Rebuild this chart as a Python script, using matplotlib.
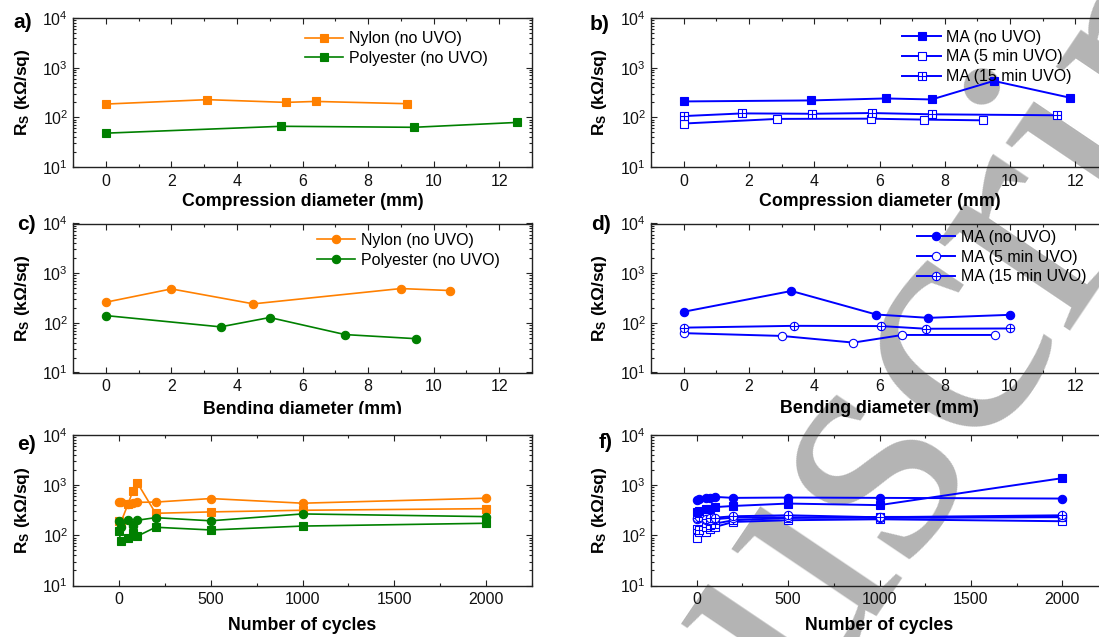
import numpy as np
import matplotlib
matplotlib.use('Agg')
import matplotlib.pyplot as plt
from matplotlib.path import Path
from matplotlib.patches import Rectangle
from matplotlib.ticker import LogLocator, MultipleLocator, NullFormatter

plt.rcParams['font.family'] = ['Liberation Sans', 'DejaVu Sans']
plt.rcParams['mathtext.default'] = 'regular'

# ---------------- data ----------------
# (a) compression, no UVO
a_nylon_x = [0, 3.1, 5.5, 6.4, 9.2]
a_nylon_y = [185, 227, 200, 209, 188]
a_poly_x = [0, 5.35, 9.4, 12.55]
a_poly_y = [48, 66, 63, 79]

# (b) compression, MA
b_no_x = [0, 3.9, 6.2, 7.6, 9.5, 11.85]
b_no_y = [209, 219, 240, 229, 541, 247]
b_5_x = [0, 2.87, 5.73, 7.37, 9.18]
b_5_y = [75, 93, 94, 90, 87]
b_15_x = [0, 1.8, 3.92, 5.76, 7.62, 11.44]
b_15_y = [106, 120, 118, 122, 115, 110]

# (c) bending, no UVO
c_nylon_x = [0, 2.0, 4.5, 9.0, 10.5]
c_nylon_y = [260, 482, 241, 490, 447]
c_poly_x = [0, 3.5, 5.0, 7.3, 9.45]
c_poly_y = [140, 83, 128, 58, 48]

# (d) bending, MA
d_no_x = [0, 3.3, 5.9, 7.5, 10]
d_no_y = [167, 438, 147, 126, 145]
d_5_x = [0, 3.0, 5.2, 6.7, 9.55]
d_5_y = [62, 54.5, 40, 57, 57]
d_15_x = [0, 3.37, 6.05, 7.42, 10]
d_15_y = [80, 87, 86, 76, 77]

# (e), (f) cycling
cycles = [0, 10, 50, 75, 100, 200, 500, 1000, 2000]
e_nylon_bend = [460, 455, 420, 450, 455, 460, 541, 437, 550]
e_nylon_comp = [190, 180, 420, 750, 1120, 275, 293, 316, 340]
e_poly_bend = [190, 145, 205, 150, 200, 225, 195, 267, 236]
e_poly_comp = [122, 76, 90, 113, 96, 145, 128, 153, 174]

f_no_bend = [517, 520, 550, 558, 584, 558, 567, 558, 541]
f_no_comp = [290, 300, 330, 340, 365, 385, 430, 400, 1380]
f_5_bend = [215, 225, 205, 200, 210, 225, 228, 222, 230]
f_15_bend = [226, 235, 215, 225, 225, 240, 251, 229, 251]
f_5_comp = [88, 117, 117, 136, 147, 185, 200, 209, 191]
f_15_comp = [136, 126, 147, 158, 171, 200, 222, 233, 233]

WATERMARK = 'uscript'

ORANGE = '#FF8000'
GREEN = '#008000'
BLUE = '#0000FF'
GREY = '#b4b4b4'

# crossed markers
_sq = Path([(-1, -1), (1, -1), (1, 1), (-1, 1), (-1, -1)],
           [Path.MOVETO, Path.LINETO, Path.LINETO, Path.LINETO, Path.CLOSEPOLY])
_cross = Path([(-1, 0), (1, 0), (0, -1), (0, 1)],
              [Path.MOVETO, Path.LINETO, Path.MOVETO, Path.LINETO])
SQX = Path.make_compound_path(_sq, _cross)
CIRCX = Path.make_compound_path(Path.unit_circle(), _cross)

W, H = 1099, 637
fig = plt.figure(figsize=(W / 100, H / 100), dpi=100)

# watermark behind everything (axes have transparent backgrounds)
fig.text(808 / W, 1 - 712 / H, WATERMARK, fontsize=248, family='Liberation Serif',
         color=GREY, rotation=56, rotation_mode='anchor', ha='left', va='baseline',
         zorder=-5)


def px_axes(x0, y0, x1, y1):
    return fig.add_axes([x0 / W, 1 - y1 / H, (x1 - x0) / W, (y1 - y0) / H])


def setup(ax, xlim, xmaj, xmin, xlabel, xlab_y):
    ax.set_facecolor('none')
    ax.set_yscale('log')
    ax.set_ylim(10, 1e4)
    ax.set_xlim(*xlim)
    ax.xaxis.set_major_locator(MultipleLocator(xmaj))
    ax.xaxis.set_minor_locator(MultipleLocator(xmin))
    ax.yaxis.set_major_locator(LogLocator(10, numticks=10))
    ax.yaxis.set_minor_locator(LogLocator(10, subs=np.arange(2, 10), numticks=20))
    ax.yaxis.set_minor_formatter(NullFormatter())
    ax.tick_params(which='both', direction='in', top=True, right=True,
                   labelsize=11.5, width=0.8, colors='#222222', labelcolor='#111111')
    ax.tick_params(which='major', length=4.5)
    ax.tick_params(which='minor', length=2.5)
    ax.tick_params(axis='x', pad=5)
    for s in ax.spines.values():
        s.set_linewidth(1.0)
        s.set_color('#222222')
    ax.set_xlabel(xlabel, fontsize=12.8, fontweight='bold')
    ax.xaxis.set_label_coords(0.5, xlab_y)
    ax.xaxis.label.set_va('center')
    ax.set_ylabel('R$_S$ (k\u03a9/sq)', fontsize=12.5, fontweight='bold')


def ylab(ax, x):
    ax.yaxis.set_label_coords(x, 0.5)
    ax.yaxis.label.set_va('center')


LW_OG = 1.2
LW_B = 1.4
MS_SQ = 5.4
MS_C = 6.0
MEW = 0.8


def leg(ax, x, y):
    ax.legend(loc='upper left', bbox_to_anchor=(x, y), frameon=False,
              borderpad=0, borderaxespad=0, handlelength=2.4,
              handletextpad=0.35, labelspacing=0.3, fontsize=11.5)


# ---- (a)
ax = px_axes(73, 18, 532, 167)
setup(ax, (-1, 13), 2, 1, 'Compression diameter (mm)', -0.231)
ylab(ax, -0.109)
ax.plot(a_nylon_x, a_nylon_y, '-s', color=ORANGE, lw=LW_OG, ms=MS_SQ, mew=MEW, label='Nylon (no UVO)')
ax.plot(a_poly_x, a_poly_y, '-s', color=GREEN, lw=LW_OG, ms=MS_SQ, mew=MEW, label='Polyester (no UVO)')
leg(ax, 0.505, 0.912)

# ---- (b)
ax = px_axes(651, 18, 1108, 167)
setup(ax, (-1, 13), 2, 1, 'Compression diameter (mm)', -0.231)
ylab(ax, -0.112)
ax.plot(b_no_x, b_no_y, '-s', color=BLUE, lw=LW_B, ms=MS_SQ, mew=MEW, label='MA (no UVO)')
ax.plot(b_5_x, b_5_y, '-s', color=BLUE, lw=LW_B, ms=MS_SQ, mew=MEW, mfc='white', label='MA (5 min UVO)')
ax.plot(b_15_x, b_15_y, '-', marker=SQX, color=BLUE, lw=LW_B, ms=MS_SQ + 0.6, mew=MEW, mfc='white', label='MA (15 min UVO)')
leg(ax, 0.55, 0.922)

# ---- (c)
ax = px_axes(73, 223.5, 532, 372.5)
setup(ax, (-1, 13), 2, 1, 'Bending diameter (mm)', -0.245)
ylab(ax, -0.109)
ax.plot(c_nylon_x, c_nylon_y, '-o', color=ORANGE, lw=LW_OG, ms=MS_C, mew=MEW, label='Nylon (no UVO)')
ax.plot(c_poly_x, c_poly_y, '-o', color=GREEN, lw=LW_OG, ms=MS_C, mew=MEW, label='Polyester (no UVO)')
leg(ax, 0.531, 0.937)

# ---- (d)
ax = px_axes(651, 223.5, 1108, 372.5)
setup(ax, (-1, 13), 2, 1, 'Bending diameter (mm)', -0.24)
ylab(ax, -0.112)
ax.plot(d_no_x, d_no_y, '-o', color=BLUE, lw=LW_B, ms=MS_C, mew=MEW, label='MA (no UVO)')
ax.plot(d_5_x, d_5_y, '-o', color=BLUE, lw=LW_B, ms=MS_C, mew=MEW, mfc='white', label='MA (5 min UVO)')
ax.plot(d_15_x, d_15_y, '-', marker=CIRCX, color=BLUE, lw=LW_B, ms=MS_C, mew=MEW, mfc='white', label='MA (15 min UVO)')
leg(ax, 0.582, 0.957)

# ---- (e)
ax = px_axes(73, 435, 532, 585.5)
setup(ax, (-250, 2250), 500, 250, 'Number of cycles', -0.265)
ylab(ax, -0.109)
ax.plot(cycles, e_nylon_comp, '-s', color=ORANGE, lw=LW_OG, ms=MS_SQ, mew=MEW)
ax.plot(cycles, e_nylon_bend, '-o', color=ORANGE, lw=LW_OG, ms=MS_C, mew=MEW)
ax.plot(cycles, e_poly_bend, '-o', color=GREEN, lw=LW_OG, ms=MS_C, mew=MEW)
ax.plot(cycles, e_poly_comp, '-s', color=GREEN, lw=LW_OG, ms=MS_SQ, mew=MEW)

# ---- (f)
ax = px_axes(651, 435, 1108, 585.5)
setup(ax, (-250, 2250), 500, 250, 'Number of cycles', -0.265)
ylab(ax, -0.112)
ax.plot(cycles, f_5_comp, '-s', color=BLUE, lw=LW_B, ms=MS_SQ, mew=MEW, mfc='white')
ax.plot(cycles, f_15_comp, '-', marker=SQX, color=BLUE, lw=LW_B, ms=MS_SQ + 0.6, mew=MEW, mfc='white')
ax.plot(cycles, f_5_bend, '-o', color=BLUE, lw=LW_B, ms=MS_C, mew=MEW, mfc='white')
ax.plot(cycles, f_15_bend, '-', marker=CIRCX, color=BLUE, lw=LW_B, ms=MS_C, mew=MEW, mfc='white')
ax.plot(cycles, f_no_comp, '-s', color=BLUE, lw=LW_B, ms=MS_SQ, mew=MEW)
ax.plot(cycles, f_no_bend, '-o', color=BLUE, lw=LW_B, ms=MS_C, mew=MEW)

# panel letters
for lab, x, y in [('a)', 13, 23), ('b)', 590, 25), ('c)', 17, 225),
                  ('d)', 591, 225), ('e)', 17, 445), ('f)', 599, 442)]:
    fig.text(x / W, 1 - y / H, lab, fontsize=15, fontweight='bold', ha='left', va='center')

# the source image crops the bottom of panel (c)'s x label
fig.patches.append(Rectangle((0, 1 - 425 / H), 560 / W, 11 / H,
                             transform=fig.transFigure, facecolor='white',
                             edgecolor='none', zorder=10))

fig.savefig('out.png', dpi=100)
